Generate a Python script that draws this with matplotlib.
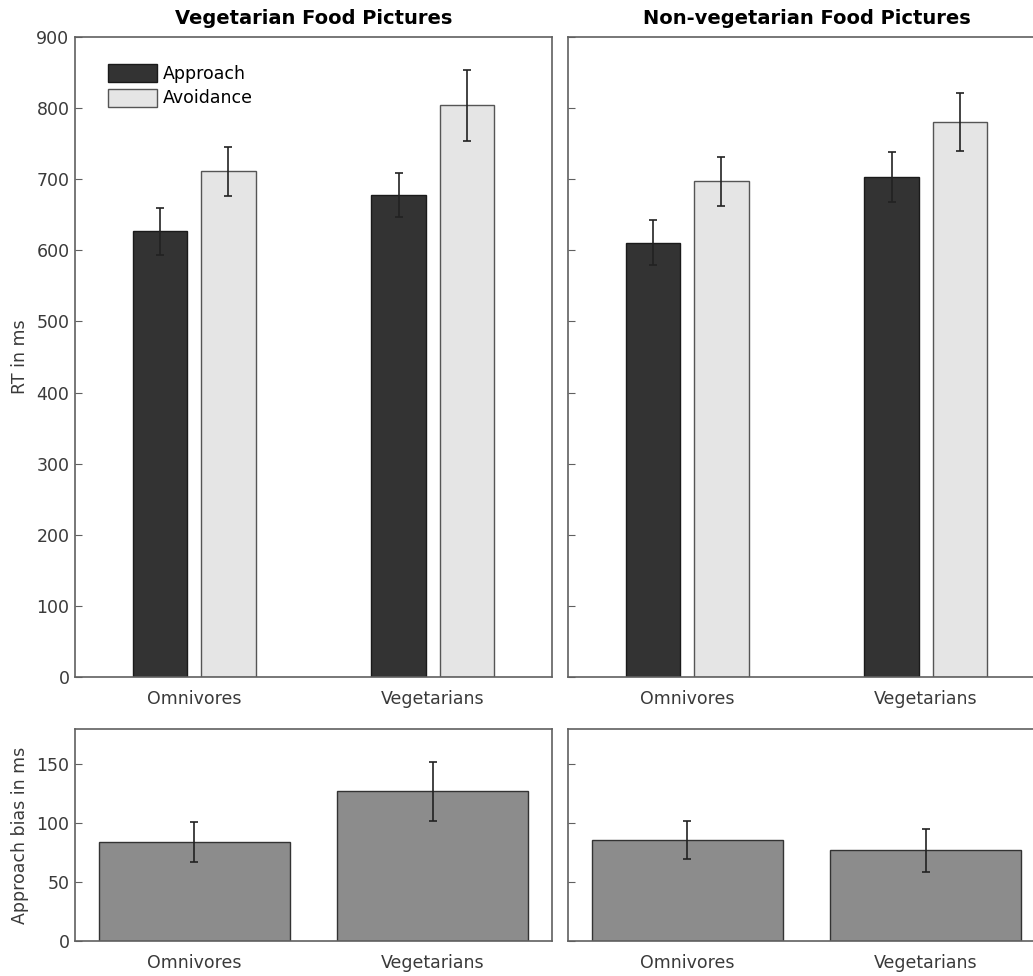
import numpy as np
import matplotlib.pyplot as plt

groups = ["Omnivores", "Vegetarians"]
titles = ["Vegetarian Food Pictures", "Non-vegetarian Food Pictures"]

# RT means and SEs: [panel][group]
approach = [[627, 678], [611, 703]]
approach_err = [[33, 31], [32, 35]]
avoidance = [[711, 804], [697, 780]]
avoidance_err = [[34, 50], [34, 41]]

# approach bias
bias = [[84, 127], [86, 77]]
bias_err = [[17, 25], [16, 18]]

c_app = "#333333"
c_avo = "#e5e5e5"
c_bias = "#8c8c8c"
c_axis = "#606060"
c_text = "#3a3a3a"

plt.rcParams['font.family'] = ['DejaVu Sans']
fs = 12.5

W, H = 1033, 976
fig = plt.figure(figsize=(W / 100, H / 100), dpi=100)

def px_axes(x0, y0, x1, y1):
    return fig.add_axes([x0 / W, 1 - y1 / H, (x1 - x0) / W, (y1 - y0) / H])

def style(ax, show_labels):
    for s in ax.spines.values():
        s.set_color(c_axis)
        s.set_linewidth(1.2)
    ax.tick_params(axis='y', direction='in', length=5, color=c_axis,
                   labelcolor=c_text, labelsize=fs, labelleft=show_labels, pad=4)
    ax.tick_params(axis='x', length=0, labelcolor=c_text, labelsize=fs, pad=9)
    ax.set_xlim(0.5, 2.5)
    ax.set_xticks([1, 2])
    ax.set_xticklabels(groups)

x = np.arange(1, 3)
off = 0.143
bw = 0.229
ekw = dict(ecolor="#222222", elinewidth=1.2, capsize=3, capthick=1.2)

tops = [(75, 552), (568, 1045)]
for i, (xa, xb) in enumerate(tops):
    ax = px_axes(xa, 37, xb, 677)
    ax.bar(x - off, approach[i], bw, color=c_app, edgecolor="#1a1a1a", linewidth=1,
           yerr=approach_err[i], error_kw=ekw, label="Approach")
    ax.bar(x + off, avoidance[i], bw, color=c_avo, edgecolor="#555555", linewidth=1,
           yerr=avoidance_err[i], error_kw=ekw, label="Avoidance")
    ax.set_ylim(0, 900)
    ax.set_yticks(np.arange(0, 901, 100))
    style(ax, i == 0)
    ax.set_title(titles[i], fontweight='bold', fontsize=14, pad=9)
    if i == 0:
        ax.set_ylabel("RT in ms", color=c_text, fontsize=fs, labelpad=5)
        ax.legend(loc='upper left', bbox_to_anchor=(0.069, 0.958), frameon=False,
                  handlelength=2.85, handleheight=1.2, handletextpad=0.3,
                  labelspacing=0.35, fontsize=fs, borderaxespad=0, borderpad=0)

    axb = px_axes(xa, 729, xb, 941)
    axb.bar(x, bias[i], 0.8, color=c_bias, edgecolor="#333333", linewidth=1,
            yerr=bias_err[i], error_kw=ekw)
    axb.set_ylim(0, 180)
    axb.set_yticks([0, 50, 100, 150])
    style(axb, i == 0)
    if i == 0:
        axb.set_ylabel("Approach bias in ms", color=c_text, fontsize=fs, labelpad=5)

fig.savefig("out.png", dpi=100)
